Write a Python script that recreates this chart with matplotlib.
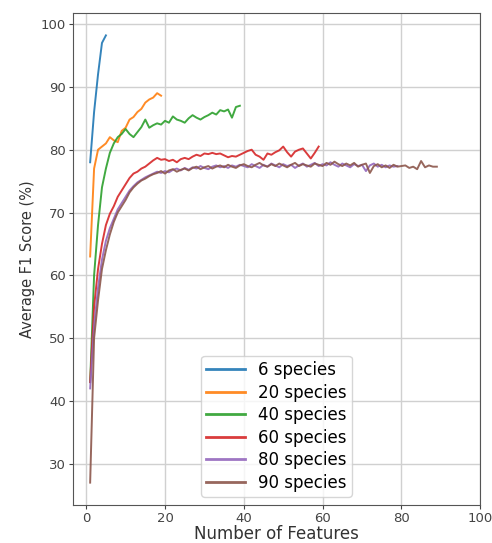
import matplotlib
matplotlib.use("Agg")
import matplotlib.pyplot as plt

# average F1 score per number of features, one list per species count
f1_6 = [78, 86, 92, 97, 98.2]
f1_20 = [63, 77, 80, 80.5, 81, 82, 81.5, 81.2, 83, 83.5, 84.8, 85.2, 86, 86.5,
         87.5, 88, 88.3, 89, 88.6]
f1_40 = [43, 60, 68, 74, 77, 79.5, 81, 82, 82.5, 83.3, 82.5, 82, 82.8, 83.6,
         84.8, 83.5, 83.9, 84.2, 84, 84.6, 84.3, 85.3, 84.8, 84.6, 84.3, 85,
         85.5, 85.1, 84.8, 85.2, 85.5, 85.9, 85.6, 86.3, 86.1, 86.4, 85.1,
         86.8, 87]
f1_60 = [43, 55, 61, 65, 68, 69.8, 71, 72.5, 73.5, 74.5, 75.5, 76.2, 76.5, 77,
         77.3, 77.8, 78.3, 78.7, 78.4, 78.5, 78.2, 78.4, 78, 78.5, 78.7, 78.5,
         78.9, 79.2, 79, 79.4, 79.3, 79.5, 79.3, 79.4, 79.1, 78.8, 79, 78.9,
         79.2, 79.5, 79.8, 80, 79.2, 78.9, 78.4, 79.4, 79.2, 79.6, 79.9, 80.5,
         79.6, 78.9, 79.7, 80, 80.2, 79.4, 78.6, 79.5, 80.5]
f1_80 = [42, 52, 58, 62.5, 65.5, 67.5, 69, 70.5, 71.5, 72.5, 73.5, 74.2, 74.8,
         75.2, 75.6, 75.9, 76.2, 76.5, 76.3, 76.6, 76.4, 76.8, 77, 76.7, 77.1,
         76.8, 77.2, 77, 77.4, 77.1, 76.9, 77.3, 77.5, 77.2, 77.4, 77.1, 77.5,
         77.3, 77.6, 77.4, 77.2, 77.7, 77.4, 77.1, 77.6, 77.3, 77.8, 77.5, 77.2,
         77.7, 77.4, 77.6, 77.1, 77.5, 77.8, 77.3, 77.6, 77.9, 77.4, 77.7, 77.5,
         78, 77.6, 77.3, 77.8, 77.5, 77.2, 77.7, 77.4, 77.6, 76.6, 77.5, 77.8,
         77.3, 77.6, 77.2, 77.5, 77.3, 77.4]
f1_90 = [27, 50, 56, 61, 64, 66.5, 68.5, 70, 71, 72, 73.2, 74, 74.6, 75.1, 75.4,
         75.8, 76.1, 76.3, 76.6, 76.2, 76.7, 76.9, 76.5, 76.8, 77, 76.7, 77.1,
         77.3, 76.9, 77.2, 77.4, 77, 77.3, 77.5, 77.2, 77.6, 77.3, 77.1, 77.5,
         77.7, 77.4, 77.2, 77.6, 77.9, 77.5, 77.3, 77.7, 77.4, 77.8, 77.5, 77.2,
         77.6, 77.9, 77.4, 77.7, 77.5, 77.3, 77.8, 77.6, 77.4, 77.9, 77.6, 78.1,
         77.7, 77.4, 77.8, 77.5, 77.9, 77.3, 77.6, 77.8, 76.3, 77.4, 77.7, 77.2,
         77.5, 77.1, 77.6, 77.3, 77.4, 77.5, 77.1, 77.3, 76.9, 78.2, 77.2, 77.5,
         77.3, 77.3]

series = [("6 species", f1_6), ("20 species", f1_20), ("40 species", f1_40),
          ("60 species", f1_60), ("80 species", f1_80), ("90 species", f1_90)]

fig = plt.figure(figsize=(4.92, 5.43), dpi=100)
ax = fig.add_axes([0.148, 0.070, 0.828, 0.906])

for label, vals in series:
    ax.plot(range(1, len(vals) + 1), vals, lw=1.4, label=label, alpha=0.9)

ax.set_xlim(-3.4, 100)
ax.set_xticks([0, 20, 40, 60, 80, 100])
ax.set_yticks([30, 40, 50, 60, 70, 80, 90, 100])
ax.grid(True, color="#d0d0d0", lw=1)
ax.tick_params(labelsize=9.5, colors="#444444", length=3, pad=2)
for s in ax.spines.values():
    s.set_color("#555555")

ax.set_xlabel("Number of Features", fontsize=12, color="#333333", labelpad=0)
ax.set_ylabel("Average F1 Score (%)", fontsize=10.5, color="#333333")

leg = ax.legend(loc="lower center", fontsize=12, handlelength=2.3,
                labelspacing=0.27, borderpad=0.3, borderaxespad=0.5)
for h in leg.get_lines():
    h.set_linewidth(2)

fig.savefig("out.png", dpi=100)
